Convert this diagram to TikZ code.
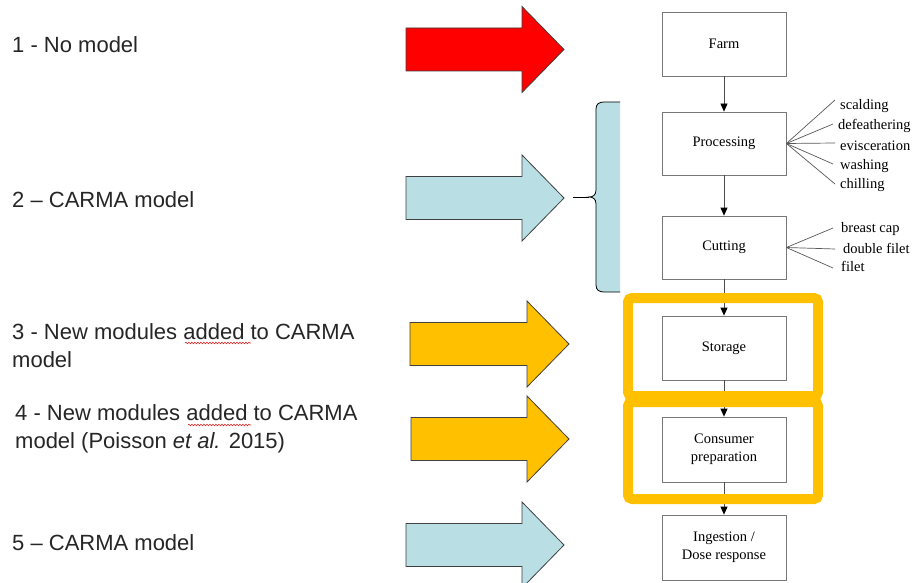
\documentclass[tikz,border=0pt]{standalone}
\usepackage{fontspec}
\setmainfont{Liberation Serif}
\newfontfamily\arialf{Liberation Sans}
\usetikzlibrary{arrows.meta,decorations.pathmorphing}
\definecolor{arrred}{RGB}{255,0,0}
\definecolor{arrblue}{RGB}{185,223,228}
\definecolor{arrorange}{RGB}{255,192,0}
\definecolor{edgegray}{RGB}{64,64,64}
\definecolor{boxline}{RGB}{120,120,120}
\definecolor{squig}{RGB}{220,40,40}
\newcommand\blockarr[5]{%
  \draw[arrowline, fill=#1] (#2,{#5-21.5}) -- (#3,{#5-21.5}) -- (#3,{#5-43}) -- (#4,#5) -- (#3,{#5+43}) -- (#3,{#5+21.5}) -- (#2,{#5+21.5}) -- cycle;}
\begin{document}
\begin{tikzpicture}[x=1pt,y=-1pt,
  flowbox/.style={draw=boxline, line width=0.8pt, fill=white, minimum width=124pt, minimum height=64pt, inner sep=0pt, align=center, font=\fontsize{14.5}{18}\selectfont},
  flowarr/.style={draw=black!70, line width=0.8pt, -{Triangle[length=8pt,width=7pt,color=black,fill=black]}},
  fanline/.style={draw=black!65, line width=0.7pt},
  sidelbl/.style={anchor=base west, inner sep=0pt, font=\fontsize{14.5}{17}\selectfont},
  leftlbl/.style={inner sep=0pt, align=left, font=\arialf\fontsize{22}{28}\selectfont, text=black!85},
  orangeframe/.style={draw=arrorange, line width=10pt, rounded corners=4pt},
  arrowline/.style={draw=edgegray, line width=0.8pt},
  squiggle/.style={draw=squig, line width=0.6pt, decorate, decoration={snake, amplitude=0.8pt, segment length=3pt}}
]
\useasboundingbox (0,0) rectangle (913,583);
\fill[white] (0,0) rectangle (913,583);

% left labels
\node[leftlbl, anchor=west] (t1) at (12,45) {1 - No model};
\node[leftlbl, anchor=west] (t2) at (12,200) {2 – CARMA model};
\node[leftlbl, anchor=base west] (t3) at (12,367) {3 - New modules added to CARMA\\model};
\node[leftlbl, anchor=base west] (t4) at (15,448) {4 - New modules added to CARMA\\model (Poisson \textit{et al.} 2015)};
\node[leftlbl, anchor=west] (t5) at (12,543) {5 – CARMA model};
\draw[squiggle] (185,343) -- (251,343);
\draw[squiggle] (188,425) -- (251,425);

% block arrows
\blockarr{arrred}{406}{522}{564}{49.5}
\blockarr{arrblue}{406}{522}{564}{198}
\blockarr{arrorange}{410}{527}{569}{344}
\blockarr{arrorange}{411}{527}{569}{439}
\blockarr{arrblue}{406}{522}{564}{545}

% brace
\fill[arrblue] (620,102) -- (604,102) .. controls (599,102) and (596,104) .. (596,109) -- (596,190) .. controls (596,195) and (593,197) .. (589,197) .. controls (593,197) and (596,199) .. (596,204) -- (596,285) .. controls (596,290) and (599,292) .. (604,292) -- (620,292) -- cycle;
\draw[arrowline, black] (620,102) -- (604,102) .. controls (599,102) and (596,104) .. (596,109) -- (596,190) .. controls (596,195) and (593,197) .. (589,197) .. controls (593,197) and (596,199) .. (596,204) -- (596,285) .. controls (596,290) and (599,292) .. (604,292) -- (620,292);
\coordinate (stem) at (573,197);
\coordinate (stemtip) at (589,197);
\draw[arrowline, black, line width=1pt] (stem) -- (stemtip);

% flow boxes
\node[flowbox] (farm) at (724,44) {Farm};
\node[flowbox, minimum height=63pt] (proc) at (724,143.5) {Processing};
\node[flowbox, minimum height=63pt] (cut) at (724,247.5) {Cutting};
\node[flowbox] (stor) at (724,348) {Storage};
\node[flowbox, minimum height=65pt] (cons) at (724,449.5) {Consumer\\preparation};
\node[flowbox, minimum height=65pt] (ing) at (724,547.5) {Ingestion /\\Dose response};

\draw[flowarr] (farm) -- (proc);
\draw[flowarr] (proc) -- (cut);
\draw[flowarr] (cut) -- (stor);
\draw[flowarr] (stor) -- (cons);
\draw[flowarr] (cons) -- (ing);

% processing fan
\node[sidelbl] (l1) at (840,110) {scalding};
\node[sidelbl] (l2) at (838,130) {defeathering};
\node[sidelbl] (l3) at (840,150) {evisceration};
\node[sidelbl] (l4) at (840,170) {washing};
\node[sidelbl] (l5) at (840,189) {chilling};
\coordinate (e1) at (835,100);
\coordinate (e2) at (833,124);
\coordinate (e3) at (835,143);
\coordinate (e4) at (833,164);
\coordinate (e5) at (835,184);
\foreach \e in {e1,e2,e3,e4,e5} \draw[fanline] (proc.east) -- (\e);

% cutting fan
\node[sidelbl] (c1) at (841,232) {breast cap};
\node[sidelbl] (c2) at (843,253) {double filet};
\node[sidelbl] (c3) at (841,271) {filet};
\coordinate (f1) at (833,228);
\coordinate (f2) at (835,249);
\coordinate (f3) at (833,268);
\foreach \e in {f1,f2,f3} \draw[fanline] (cut.east) -- (\e);

% orange frames
\draw[orangeframe] (628,298) rectangle (818,396);
\draw[orangeframe] (628,402) rectangle (818,499);
\end{tikzpicture}
\end{document}
